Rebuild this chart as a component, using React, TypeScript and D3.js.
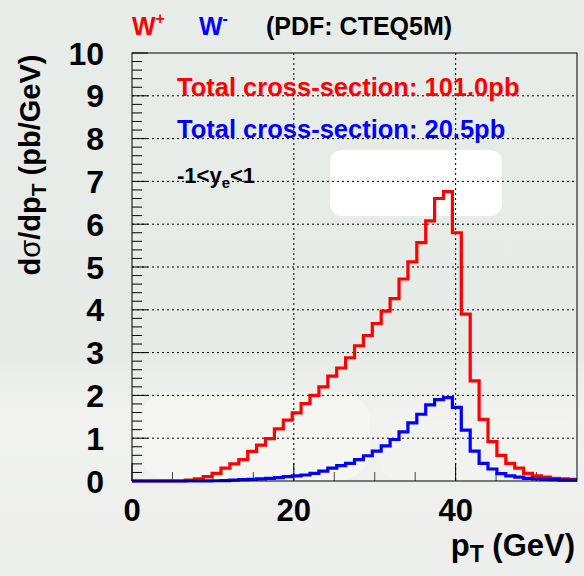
import React from 'react';
import * as d3 from 'd3';

// ---- data ----
const X_MIN = 0;
const X_MAX = 55;
const N_BINS = 50;
const Y_MAX = 10;

// W+ (red), d sigma / d pT per bin (pb/GeV)
const wPlus = [
  0, 0, 0, 0, 0, 0, 0.02, 0.05, 0.1, 0.18,
  0.3, 0.4, 0.5, 0.69, 0.84, 0.99, 1.22, 1.42, 1.59, 1.81,
  2.0, 2.2, 2.45, 2.64, 2.88, 3.16, 3.4, 3.68, 3.97, 4.26,
  4.72, 5.12, 5.57, 6.08, 6.6, 6.76, 5.8, 3.9, 2.34, 1.44,
  0.92, 0.6, 0.41, 0.3, 0.18, 0.12, 0.09, 0.06, 0.05, 0.04,
];
// W- (blue)
const wMinus = [
  0, 0, 0, 0, 0, 0, 0, 0, 0.003, 0.006,
  0.01, 0.02, 0.03, 0.04, 0.05, 0.06, 0.08, 0.1, 0.12, 0.14,
  0.18, 0.23, 0.3, 0.36, 0.41, 0.5, 0.59, 0.7, 0.82, 0.97,
  1.15, 1.36, 1.56, 1.78, 1.9, 1.95, 1.72, 1.19, 0.7, 0.41,
  0.28, 0.17, 0.12, 0.09, 0.06, 0.05, 0.04, 0.03, 0.02, 0.02,
];

const yTickLabels = [0, 1, 2, 3, 4, 5, 6, 7, 8, 9, 10];
const xTickLabels = [0, 20, 40];
const xMinorTicks = [5, 10, 15, 25, 30, 35, 45, 50];
const xGrid = [20, 40];
const yGrid = [1, 2, 3, 4, 5, 6, 7, 8, 9];

const title = { plus: 'W', minus: 'W', pdf: '(PDF: CTEQ5M)' };
const totalPlus = 'Total cross-section: 101.0pb';
const totalMinus = 'Total cross-section: 20.5pb';

const FONT = "'Liberation Sans', Arial, Helvetica, sans-serif";

export default function App() {
  const W = 584;
  const H = 576;
  const left = 132, right = 577, top = 53, bottom = 481;

  const x = d3.scaleLinear().domain([X_MIN, X_MAX]).range([left, right]);
  const y = d3.scaleLinear().domain([0, Y_MAX]).range([bottom, top]);
  const binW = (X_MAX - X_MIN) / N_BINS;

  const histPath = (vals: number[]) => {
    const pts: [number, number][] = vals.map((v, i) => [X_MIN + i * binW, v]);
    pts.push([X_MAX, vals[vals.length - 1]]);
    return d3
      .line<[number, number]>()
      .x((d) => x(d[0]))
      .y((d) => y(d[1]))
      .curve(d3.curveStepAfter)(pts) as string;
  };

  const yMinor: number[] = [];
  for (let i = 0; i < Y_MAX; i++) {
    for (let k = 1; k < 5; k++) yMinor.push(i + k * 0.2);
  }

  return (
    <svg
      width={W}
      height={H}
      style={{ position: 'absolute', left: 0, top: 0, display: 'block' }}
      fontFamily={FONT}
    >
      <defs>
        <linearGradient id="bg" x1="0" y1="0" x2="0" y2="1">
          <stop offset="0" stopColor="#e8ece9" />
          <stop offset="0.62" stopColor="#e7ebe7" />
          <stop offset="0.72" stopColor="#f1f2ef" />
          <stop offset="1" stopColor="#eceeea" />
        </linearGradient>
      </defs>
      {/* faded background picture approximation */}
      <rect x={0} y={0} width={W} height={H} fill="url(#bg)" />
      <rect x={140} y={392} width={230} height={88} rx={30} fill="#f5f5f2" />
      <rect x={380} y={420} width={200} height={60} rx={20} fill="#f2f3f0" />
      <rect x={330} y={150} width={172} height={66} rx={12} fill="#ffffff" />
      <rect x={0} y={500} width={W} height={76} fill="#eef0ec" opacity={0.7} />

      {/* grid */}
      {yGrid.map((v) => (
        <line key={'gy' + v} x1={left} x2={right} y1={y(v)} y2={y(v)} stroke="#000" strokeWidth={1} strokeDasharray="2 3" />
      ))}
      {xGrid.map((v) => (
        <line key={'gx' + v} x1={x(v)} x2={x(v)} y1={top} y2={bottom} stroke="#000" strokeWidth={1} strokeDasharray="2 3" />
      ))}

      {/* ticks */}
      {yTickLabels.map((v) => (
        <line key={'ty' + v} x1={left} x2={left + 16} y1={y(v)} y2={y(v)} stroke="#000" strokeWidth={1} />
      ))}
      {yMinor.map((v, i) => (
        <line key={'tym' + i} x1={left} x2={left + 10} y1={y(v)} y2={y(v)} stroke="#000" strokeWidth={1} />
      ))}
      {xTickLabels.map((v) => (
        <line key={'tx' + v} x1={x(v)} x2={x(v)} y1={bottom} y2={bottom - 18} stroke="#000" strokeWidth={1} />
      ))}
      {xMinorTicks.map((v) => (
        <line key={'txm' + v} x1={x(v)} x2={x(v)} y1={bottom} y2={bottom - 9} stroke="#444" strokeWidth={1} />
      ))}

      {/* histograms */}
      <path d={histPath(wPlus)} fill="none" stroke="#ff0000" strokeWidth={3.2} />
      <path d={histPath(wMinus)} fill="none" stroke="#0000ff" strokeWidth={3.2} />

      {/* frame */}
      <rect x={left} y={top} width={right - left} height={bottom - top} fill="none" stroke="#000" strokeWidth={1} />

      {/* tick labels */}
      {yTickLabels.map((v) => (
        <text key={'ly' + v} x={104} y={y(v)} dy="0.36em" textAnchor="end" fontSize={32} fontWeight="bold" fill="#000">
          {v}
        </text>
      ))}
      {xTickLabels.map((v) => (
        <text key={'lx' + v} x={x(v)} y={521} textAnchor="middle" fontSize={31} fontWeight="bold" fill="#000">
          {v}
        </text>
      ))}

      {/* axis titles */}
      <text x={575} y={556} textAnchor="end" fontSize={31} fontWeight="bold" fill="#000">
        p<tspan fontSize={23} dy={6}>T</tspan>
        <tspan dy={-6}> (GeV)</tspan>
      </text>
      <text
        transform="translate(40,165) rotate(-90)"
        textAnchor="middle"
        fontSize={29}
        fontWeight="bold"
        fill="#000"
      >
        d<tspan fontWeight="normal">σ</tspan>/dp<tspan fontSize={21} dy={6}>T</tspan>
        <tspan dy={-6}> (pb/GeV)</tspan>
      </text>

      {/* title */}
      <text x={132} y={35} fontSize={25} fontWeight="bold">
        <tspan fill="#ff0000">{title.plus}</tspan>
        <tspan fill="#ff0000" fontSize={16} dy={-11}>+</tspan>
      </text>
      <text x={199} y={35} fontSize={25} fontWeight="bold">
        <tspan fill="#0000ff">{title.minus}</tspan>
        <tspan fill="#0000ff" fontSize={16} dy={-11}>-</tspan>
      </text>
      <text x={266} y={35} fontSize={25} fontWeight="bold" fill="#000">
        {title.pdf}
      </text>

      {/* in-plot labels */}
      <text x={177} y={96} fontSize={25.5} fontWeight="bold" fill="#ff0000">
        {totalPlus}
      </text>
      <text x={177} y={138} fontSize={25.5} fontWeight="bold" fill="#0000ff">
        {totalMinus}
      </text>
      <text x={177} y={183} fontSize={22} fontWeight="bold" fill="#000">
        -1&lt;y<tspan fontSize={15} dy={5}>e</tspan>
        <tspan dy={-5}>&lt;1</tspan>
      </text>
    </svg>
  );
}
